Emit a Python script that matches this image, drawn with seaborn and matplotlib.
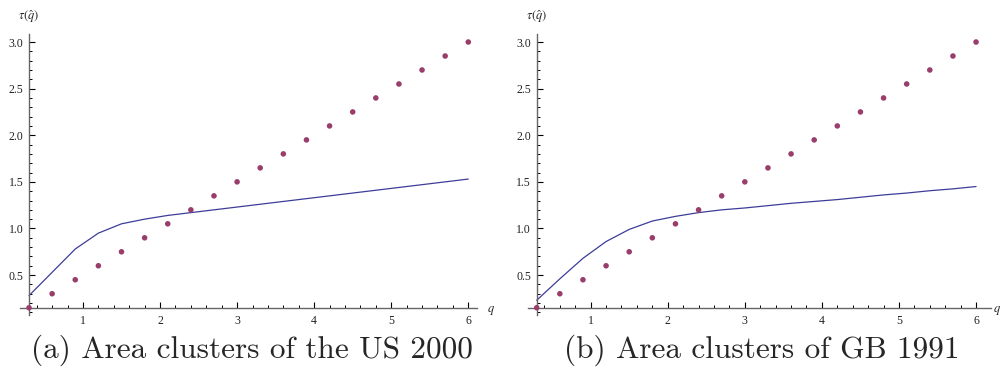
import numpy as np
import pandas as pd
import matplotlib
matplotlib.use("Agg")
import matplotlib.pyplot as plt
import seaborn as sns
from matplotlib.ticker import FixedLocator

# ---- data ----
q = [0.3, 0.6, 0.9, 1.2, 1.5, 1.8, 2.1, 2.4, 2.7, 3.0, 3.3, 3.6, 3.9, 4.2,
     4.5, 4.8, 5.1, 5.4, 5.7, 6.0]
tau_points = [0.15, 0.30, 0.45, 0.60, 0.75, 0.90, 1.05, 1.20, 1.35, 1.50,
              1.65, 1.80, 1.95, 2.10, 2.25, 2.40, 2.55, 2.70, 2.85, 3.00]
tau_us = [0.28, 0.53, 0.78, 0.95, 1.05, 1.10, 1.14, 1.17, 1.20, 1.23,
          1.26, 1.29, 1.32, 1.35, 1.38, 1.41, 1.44, 1.47, 1.50, 1.53]
tau_gb = [0.23, 0.46, 0.68, 0.86, 0.99, 1.08, 1.13, 1.17, 1.20, 1.22,
          1.245, 1.27, 1.29, 1.31, 1.335, 1.36, 1.38, 1.405, 1.425, 1.45]
captions = ["(a) Area clusters of the US 2000", "(b) Area clusters of GB 1991"]
y_ticks = [0.5, 1.0, 1.5, 2.0, 2.5, 3.0]
x_ticks = [1, 2, 3, 4, 5, 6]

sns.set_style("ticks")
plt.rcParams["mathtext.fontset"] = "stix"
plt.rcParams["font.family"] = ["Liberation Serif", "DejaVu Serif"]

dot_color = "#993d6b"
line_color = "#3d3d99"

fig = plt.figure(figsize=(10, 3.71), dpi=100)
W, H = 1000, 371

def px_axes(x0, x1, y0, y1):
    return fig.add_axes([x0 / W, 1 - y1 / H, (x1 - x0) / W, (y1 - y0) / H])

axes = [px_axes(20, 477, 34, 315), px_axes(528, 990.7, 34, 315)]
xlims = [(0.183, 6.113), (0.187, 6.19)]
lines = [tau_us, tau_gb]
q_offsets = [7, 2]

for i, ax in enumerate(axes):
    df = pd.DataFrame({"q": q, "tau": tau_points, "fit": lines[i]})
    sns.lineplot(data=df, x="q", y="fit", ax=ax, color=line_color, lw=0.9,
                 sort=False)
    sns.scatterplot(data=df, x="q", y="tau", ax=ax, color=dot_color, s=16,
                    edgecolor="none", zorder=5, clip_on=False)
    ax.set_xlim(*xlims[i])
    ax.set_ylim(0.072, 3.086)
    for s in ["top", "right"]:
        ax.spines[s].set_visible(False)
    ax.spines["left"].set_position(("data", 0.3))
    ax.spines["bottom"].set_position(("data", 0.15))
    for s in ["left", "bottom"]:
        ax.spines[s].set_color("#666666")
        ax.spines[s].set_linewidth(1.0)
    ax.xaxis.set_major_locator(FixedLocator(x_ticks))
    ax.xaxis.set_minor_locator(FixedLocator(
        [v for v in np.arange(0.4, 6.01, 0.2) if abs(v - round(v)) > 1e-6]))
    ax.yaxis.set_major_locator(FixedLocator(y_ticks))
    ax.yaxis.set_minor_locator(FixedLocator(
        [v for v in np.arange(0.1, 3.01, 0.1) if abs(v * 2 - round(v * 2)) > 1e-6]))
    ax.set_xticklabels([str(t) for t in x_ticks])
    ax.set_yticklabels([f"{t:.1f}" for t in y_ticks])
    ax.tick_params(which="both", direction="in", colors="black",
                   labelcolor="#222222", labelsize=8.5)
    ax.tick_params(which="major", length=4, width=0.8)
    ax.tick_params(which="minor", length=2.2, width=0.7)
    ax.tick_params(axis="x", pad=5)
    ax.tick_params(axis="y", pad=4)
    ax.set_xlabel("")
    ax.set_ylabel("")
    ax.text(-0.004, 1.062, r"$\tau(\hat{q})$", transform=ax.transAxes,
            fontsize=9, ha="left", va="center")
    ax.annotate(r"$q$", xy=(1, 0.15), xycoords=("axes fraction", "data"),
                xytext=(q_offsets[i], -2), textcoords="offset points",
                fontsize=9, ha="left", va="center", annotation_clip=False)

fig.text(252 / W, 1 - 350 / H, captions[0], fontfamily="cmr10", fontsize=22.5,
         ha="center", va="center")
fig.text(762 / W, 1 - 350 / H, captions[1], fontfamily="cmr10", fontsize=22.5,
         ha="center", va="center")

fig.savefig("out.png", dpi=100)
